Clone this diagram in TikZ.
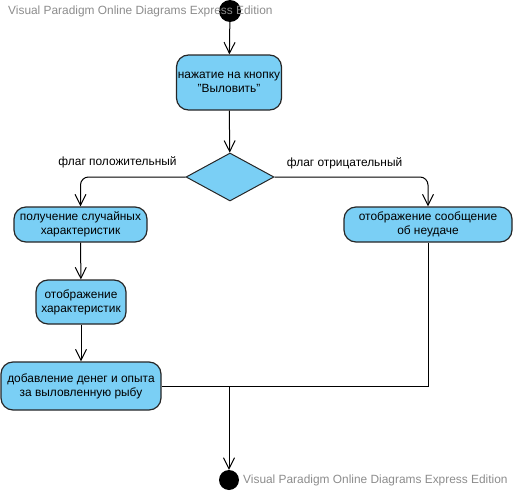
\documentclass[tikz,border=0pt]{standalone}
\usepackage{fontspec}
\setmainfont{Liberation Sans}
\usetikzlibrary{arrows.meta,positioning,shapes.geometric}
\definecolor{actfill}{HTML}{7ACFF5}
\definecolor{wmgray}{HTML}{8C8C8C}

\begin{document}
\begin{tikzpicture}[
  x=1pt,
  y=-1pt,
  act/.style={
    rectangle,
    rounded corners=12pt,
    draw=black!85,
    line width=1.2pt,
    fill=actfill,
    align=center,
    font=\fontsize{11.9}{14}\selectfont,
    inner sep=1pt
  },
  choice/.style={
    diamond,
    draw=black!85,
    line width=1pt,
    fill=actfill,
    inner sep=0pt,
    minimum width=88pt,
    minimum height=48pt
  },
  dot/.style={
    circle,
    fill=black,
    inner sep=0pt
  },
  flag/.style={
    font=\fontsize{11.9}{14}\selectfont,
    inner sep=0pt
  },
  stamp/.style={
    text=wmgray,
    font=\fontsize{11.9}{14}\selectfont,
    anchor=west,
    inner sep=0pt
  },
  arrow/.style={-{Straight Barb[length=11pt,width=11pt]}, line width=1pt, draw=black}
]
\useasboundingbox (0,0) rectangle (515,493);

\node[dot, minimum size=22pt] (start) at (230, 11) {};
\node[stamp] (topmark) at (8, 11) {Visual Paradigm Online Diagrams Express Edition};

\node[act, minimum width=105pt, minimum height=55pt] (press) at (229, 82.5)
  {нажатие на кнопку\\"Выловить"};

\node[choice] (flag) at (230, 177) {};
\node[flag] (poslabel) at (117.5, 162) {флаг положительный};
\node[flag] (neglabel) at (344.5, 163) {флаг отрицательный};

\node[act, minimum width=133pt, minimum height=35pt] (random) at (80.5, 224.5)
  {получение случайных\\характеристик};
\node[act, minimum width=168pt, minimum height=35pt] (fail) at (428, 224.5)
  {отображение сообщение\\об неудаче};
\node[act, minimum width=90pt, minimum height=44pt] (show) at (81, 302)
  {отображение\\характеристик};
\node[act, minimum width=160pt, minimum height=48pt] (reward) at (81, 386)
  {добавление денег и опыта\\за выловленную рыбу};

\node[dot, minimum size=20pt] (end) at (229, 480) {};
\node[stamp] (bottommark) at (243, 480) {Visual Paradigm Online Diagrams Express Edition};

\coordinate (merge) at (end |- reward);

\draw[arrow] (start) -- (press);
\draw[arrow] (press) -- (flag);
\draw[arrow, rounded corners=8pt] (flag.west) -| (random.north);
\draw[arrow, rounded corners=8pt] (flag.east) -| (fail.north);
\draw[arrow] (random) -- (show);
\draw[arrow] (show) -- (reward);
\draw[line width=1pt] (fail.south) |- (reward.east);
\draw[arrow] (merge) -- (end);
\end{tikzpicture}
\end{document}
